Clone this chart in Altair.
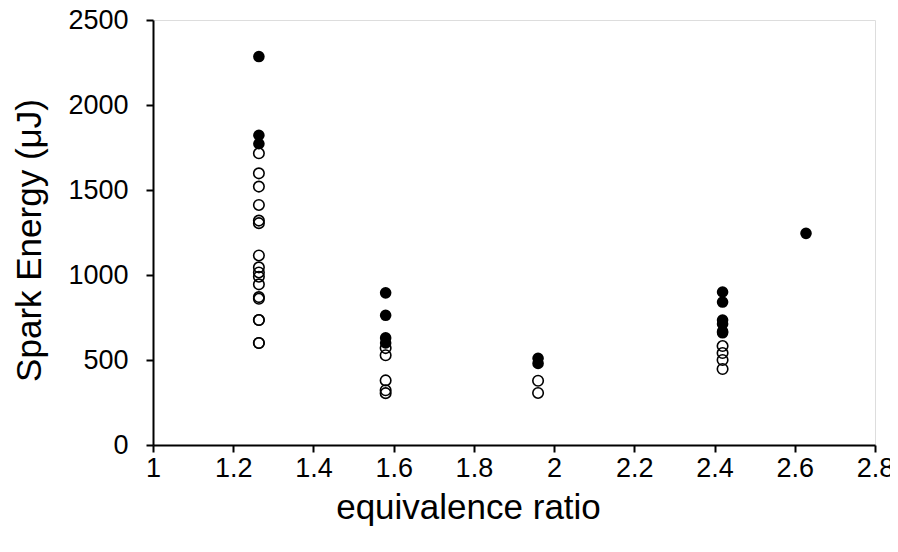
import altair as alt
import pandas as pd

# Open circles (equivalence ratio, spark energy in µJ)
open_x = [1.264] * 17 + [1.58] * 5 + [1.96] * 2 + [2.42] * 4
open_y = [1716, 1598, 1520, 1412, 1320, 1305, 1115, 1045, 1015, 990, 945, 870, 860, 735, 735, 600, 600,
          570, 528, 380, 322, 305,
          378, 306,
          582, 541, 500, 447]
# Filled circles
fill_x = [1.264] * 3 + [1.58] * 4 + [1.96] * 2 + [2.42] * 6 + [2.628]
fill_y = [2285, 1822, 1772,
          895, 763, 630, 600,
          510, 480,
          900, 841, 735, 712, 668, 660,
          1245]

df_open = pd.DataFrame({"phi": open_x, "E": open_y})
df_fill = pd.DataFrame({"phi": fill_x, "E": fill_y})

x_ticks = [1, 1.2, 1.4, 1.6, 1.8, 2, 2.2, 2.4, 2.6, 2.8]
y_ticks = [0, 500, 1000, 1500, 2000, 2500]

FONT = "Liberation Sans"
xenc = alt.X("phi:Q", scale=alt.Scale(domain=[1, 2.8], nice=False, zero=False),
             axis=alt.Axis(values=x_ticks, format=".1~f", title="equivalence ratio",
                           grid=False, tickSize=7, tickWidth=2, domainWidth=2,
                           domainColor="black", tickColor="black",
                           labelFontSize=27, titleFontSize=35, labelPadding=3,
                           titlePadding=9, titleX=315, titleAlign="center",
                           labelColor="black", titleColor="black",
                           titleFontWeight="normal", labelFont=FONT,
                           titleFont=FONT, labelFlush=False, labelOverlap=False))
yenc = alt.Y("E:Q", scale=alt.Scale(domain=[0, 2500], nice=False),
             axis=alt.Axis(values=y_ticks, format="d", title="Spark Energy (μJ)",
                           grid=False, tickSize=7, tickWidth=2, domainWidth=2,
                           domainColor="black", tickColor="black",
                           labelFontSize=27, titleFontSize=35, labelPadding=18,
                           titlePadding=20, titleY=220,
                           labelColor="black", titleColor="black",
                           titleFontWeight="normal", labelFont=FONT,
                           titleFont=FONT, labelFlush=False, labelOverlap=False))

open_layer = alt.Chart(df_open).mark_point(
    shape="circle", filled=False, color="black", strokeWidth=1.6, size=110, opacity=1
).encode(x=xenc, y=yenc)

fill_layer = alt.Chart(df_fill).mark_point(
    shape="circle", filled=True, color="black", size=135, opacity=1
).encode(x=xenc, y=yenc)

chart = alt.layer(open_layer, fill_layer).properties(
    width=722, height=425,
    autosize=alt.AutoSizeParams(type="none"),
    padding={"left": 145, "top": 12, "right": 15, "bottom": 99},
).configure_view(stroke=None).configure(background="white")

chart.save("out.html", embed_options={"renderer": "svg", "actions": False})
